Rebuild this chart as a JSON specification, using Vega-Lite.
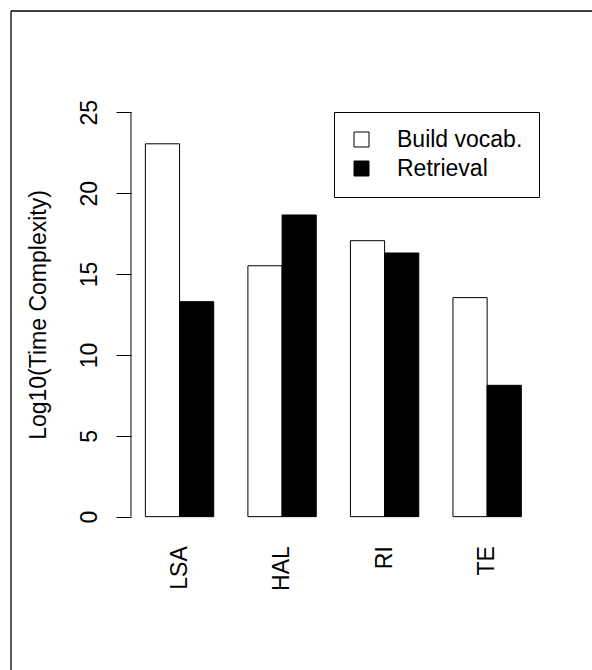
{
  "$schema": "https://vega.github.io/schema/vega-lite/v6.json",
  "width": 581,
  "height": 659,
  "autosize": {"type": "none"},
  "padding": {"left": 11, "top": 11, "right": 0, "bottom": 0},
  "background": "white",
  "config": {
    "view": {"stroke": null},
    "font": "Liberation Sans",
    "axis": {"grid": false, "labelColor": "black", "tickColor": "black", "titleColor": "black", "labelFont": "Liberation Sans", "titleFont": "Liberation Sans", "titleFontWeight": "normal"},
    "legend": {"labelFont": "Liberation Sans"}
  },
  "data": {
    "values": [
      {"method": "LSA", "series": "Build vocab.", "value": 23.05},
      {"method": "LSA", "series": "Retrieval", "value": 13.29},
      {"method": "HAL", "series": "Build vocab.", "value": 15.51},
      {"method": "HAL", "series": "Retrieval", "value": 18.65},
      {"method": "RI", "series": "Build vocab.", "value": 17.06},
      {"method": "RI", "series": "Retrieval", "value": 16.30},
      {"method": "TE", "series": "Build vocab.", "value": 13.54},
      {"method": "TE", "series": "Retrieval", "value": 8.12}
    ]
  },
  "layer": [
    {
      "mark": {"type": "bar", "stroke": "black", "strokeWidth": 1, "opacity": 1},
      "encoding": {
        "x": {
          "field": "method", "type": "nominal", "sort": ["LSA", "HAL", "RI", "TE"],
          "scale": {"paddingInner": 0.33333, "paddingOuter": 1.0072, "align": 0.6553, "round": false},
          "axis": {"title": null, "domain": false, "ticks": false, "tickSize": 0, "labelAngle": 270, "labelAlign": "right", "labelBaseline": "middle", "labelPadding": 29, "labelFontSize": 23, "offset": -153.3}
        },
        "xOffset": {
          "field": "series", "type": "nominal", "sort": ["Build vocab.", "Retrieval"],
          "scale": {"paddingInner": 0, "paddingOuter": 0}
        },
        "y": {
          "field": "value", "type": "quantitative", "stack": null,
          "scale": {"domain": [-9.48, 31.26], "nice": false, "zero": false},
          "axis": {
            "values": [0, 5, 10, 15, 20, 25], "domain": false, "ticks": true, "tickSize": 15, "tickWidth": 1,
            "offset": -120, "labelAngle": 270, "labelAlign": "center", "labelBaseline": "alphabetic", "labelPadding": 20, "labelFontSize": 23,
            "title": "Log10(Time Complexity)", "titleFontSize": 23, "titleAngle": 270, "titleAlign": "center", "titleBaseline": "alphabetic", "titleX": -86, "titleY": 303.5
          }
        },
        "fill": {
          "field": "series", "type": "nominal", "sort": ["Build vocab.", "Retrieval"],
          "scale": {"domain": ["Build vocab.", "Retrieval"], "range": ["white", "black"]},
          "legend": {
            "title": null, "orient": "none", "legendX": 323, "legendY": 101, "strokeColor": "black", "padding": 16,
            "symbolType": "square", "symbolSize": 225, "symbolStrokeColor": "black", "symbolStrokeWidth": 1, "symbolOpacity": 1,
            "labelFontSize": 23, "labelColor": "black", "labelOffset": 24, "rowPadding": 5
          }
        }
      }
    },
    {
      "data": {"values": [{}]},
      "mark": {"type": "rule", "stroke": "black", "strokeWidth": 1},
      "encoding": {
        "x": {"datum": 0.56, "type": "quantitative", "scale": {"domain": [-2.96, 14.083], "nice": false, "zero": false}, "axis": null},
        "y": {"datum": 0, "type": "quantitative"},
        "y2": {"datum": 25}
      }
    },
    {
      "data": {"values": [{}]},
      "mark": {"type": "rule", "stroke": "black", "strokeWidth": 1.3},
      "encoding": {
        "x": {"datum": -2.96, "type": "quantitative", "scale": {"domain": [-2.96, 14.083], "nice": false, "zero": false}, "axis": null}
      }
    },
    {
      "data": {"values": [{}]},
      "mark": {"type": "rule", "stroke": "black", "strokeWidth": 1.3},
      "encoding": {
        "y": {"datum": 31.26, "type": "quantitative"}
      }
    }
  ],
  "resolve": {"scale": {"x": "independent"}, "axis": {"x": "independent"}}
}
